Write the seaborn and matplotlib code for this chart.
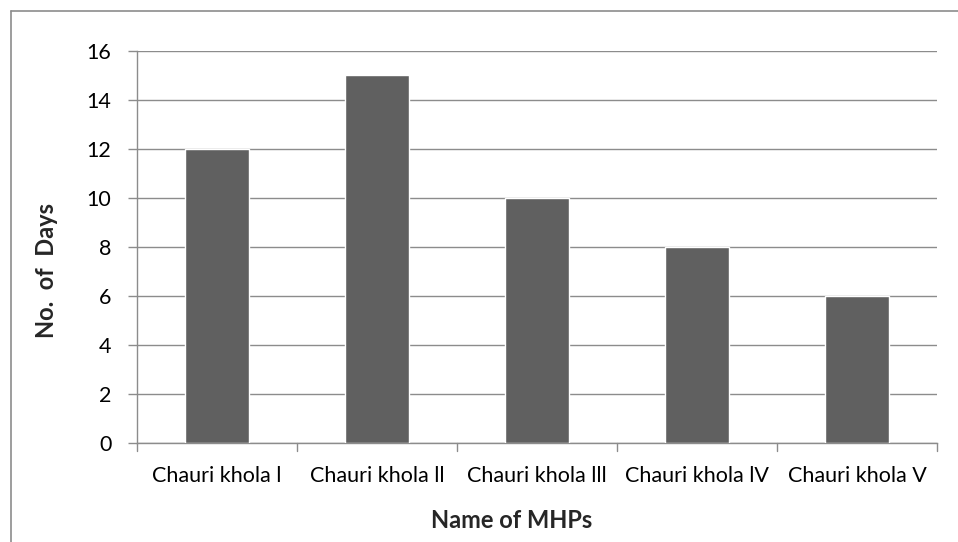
import matplotlib
matplotlib.use("Agg")
import matplotlib.pyplot as plt
import seaborn as sns
import pandas as pd
from matplotlib.lines import Line2D

categories = ["Chauri khola l", "Chauri khola ll", "Chauri khola lll", "Chauri khola lV", "Chauri khola V"]
days = [12, 15, 10, 8, 6]
yticks = [0, 2, 4, 6, 8, 10, 12, 14, 16]

sns.set_theme(style="white")
plt.rcParams['font.family'] = ['Lato', 'DejaVu Sans']

W, H = 958, 542
fig = plt.figure(figsize=(W / 100, H / 100), dpi=100)
ax = fig.add_axes([137 / W, 1 - 442.7 / H, 800 / W, (442.7 - 50.7) / H])

df = pd.DataFrame({"name": categories, "days": days})
sns.barplot(data=df, x="name", y="days", color="#606060", saturation=1, width=0.4, ax=ax, zorder=3)

grid_c = "#8c8c8c"
ax.set_ylim(0, 16)
ax.set_xlim(-0.5, len(categories) - 0.5)
ax.set_yticks(yticks)
ax.set_yticklabels([str(v) for v in yticks], fontsize=15.5, color="black")
ax.yaxis.grid(True, color=grid_c, linewidth=1.0, zorder=0)
ax.xaxis.grid(False)
for s in ["top", "right"]:
    ax.spines[s].set_visible(False)
for s in ["left", "bottom"]:
    ax.spines[s].set_color(grid_c)
    ax.spines[s].set_linewidth(1.0)

ax.set_xticks(range(len(categories)))
ax.set_xticklabels(categories, fontsize=15.5, color="black")
ax.tick_params(axis="x", length=0, pad=17)
ax.tick_params(axis="y", length=6.5, color=grid_c, width=1.0, pad=12, direction="out", left=True)

# category boundary ticks
for b in [i - 0.5 for i in range(len(categories) + 1)]:
    ax.plot([b, b], [0, -0.35], color=grid_c, linewidth=1.0, clip_on=False, zorder=4)

ax.set_xlabel("")
ax.set_ylabel("")
fig.text(512 / W, 1 - 520 / H, "Name of MHPs", ha="center", va="center", fontsize=17, fontweight="bold")
fig.text(46 / W, 1 - 270 / H, "No.  of  Days", ha="center", va="center", rotation=90, fontsize=17, fontweight="bold")

# outer chart border (left and top, rest cropped)
fig.add_artist(Line2D([10.5 / W, 10.5 / W], [0, 1 - 11 / H], transform=fig.transFigure, color="#8c8c8c", linewidth=1.2))
fig.add_artist(Line2D([10.5 / W, 1], [1 - 11 / H, 1 - 11 / H], transform=fig.transFigure, color="#8c8c8c", linewidth=1.2))

fig.savefig("out.png", dpi=100)
